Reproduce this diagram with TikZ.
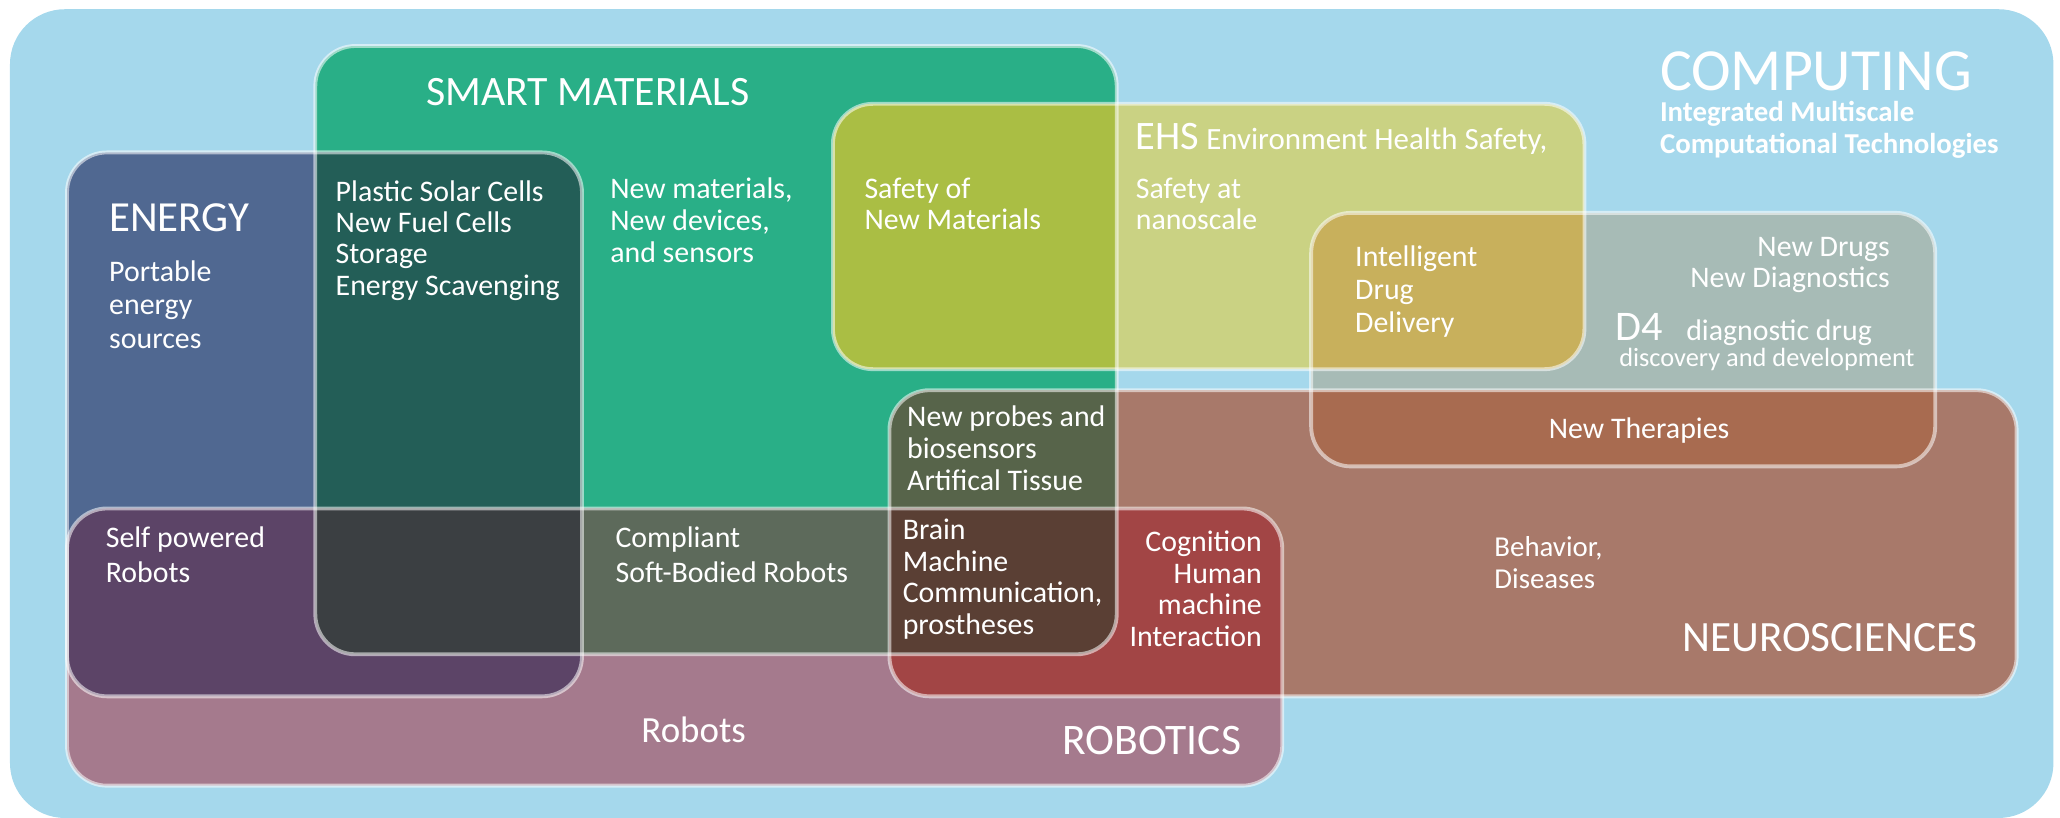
\documentclass[tikz,border=0pt]{standalone}
\usepackage{fontspec}
\setmainfont{Carlito}
\definecolor{hgblau}{HTML}{A5D8EC}
\definecolor{gruen}{HTML}{29AF87}
\definecolor{blau}{HTML}{506891}
\definecolor{mauve}{HTML}{A57A8D}
\definecolor{gelb}{HTML}{CAD283}
\definecolor{grau}{HTML}{A7BBB6}
\definecolor{braun}{HTML}{A8796A}
\definecolor{es}{HTML}{235E57}
\definecolor{er}{HTML}{5C4467}
\definecolor{sr}{HTML}{5D6A5B}
\definecolor{esr}{HTML}{3B3F42}
\definecolor{sh}{HTML}{AABE44}
\definecolor{hd}{HTML}{C8B05C}
\definecolor{dn}{HTML}{A86B50}
\definecolor{ns}{HTML}{57644A}
\definecolor{nr}{HTML}{A24545}
\definecolor{nsr}{HTML}{5A3F34}
\tikzset{
    kasten/.style={rounded corners=4mm},
    rand/.style={draw=white, draw opacity=0.55, line width=1.1pt, rounded corners=4mm},
    titel/.style={text=white, inner sep=0pt, anchor=base west},
    txt/.style={text=white, inner sep=0pt, anchor=base west, align=left},
}
\newcommand{\fs}[2]{\fontsize{#1}{#2}\selectfont}
\begin{document}
\begin{tikzpicture}[x=0.13138mm, y=-0.13138mm]
        % Hintergrund
        \useasboundingbox (0,0) rectangle (1568,622.6);
        \fill[hgblau, rounded corners=5.5mm] (7.6,7) rectangle (1563,622.6);
        % Ecken der Kaesten
        \coordinate (S1) at (240,35);  \coordinate (S2) at (850,498);
        \coordinate (E1) at (51,116);  \coordinate (E2) at (443,530);
        \coordinate (R1) at (51,387);  \coordinate (R2) at (976,598);
        \coordinate (H1) at (634,79);  \coordinate (H2) at (1206,281);
        \coordinate (D1) at (998,162); \coordinate (D2) at (1473,355);
        \coordinate (N1) at (677,297); \coordinate (N2) at (1535,530);
        % Kaesten
        \foreach \k/\f in {S/gruen,E/blau,R/mauve,H/gelb,D/grau,N/braun}{
            \fill[\f, kasten] (\k1) rectangle (\k2);
        }
        % Schnittmengen
        \foreach \a/\b/\f in {E/S/es,E/R/er,S/R/sr,S/H/sh,H/D/hd,D/N/dn,N/S/ns,N/R/nr}{
            \begin{scope}
                \clip[kasten] (\a1) rectangle (\a2);
                \fill[\f, kasten] (\b1) rectangle (\b2);
            \end{scope}
        }
        \foreach \a/\f in {E/esr,N/nsr}{
            \begin{scope}
                \clip[kasten] (\a1) rectangle (\a2);
                \clip[kasten] (S1) rectangle (S2);
                \fill[\f, kasten] (R1) rectangle (R2);
            \end{scope}
        }
        % Raender
        \foreach \k in {S,E,R,H,D,N}{
            \draw[rand] (\k1) rectangle (\k2);
        }
        % Titel
        \node[titel, font=\fs{11.9}{12}] (smart) at (324,80) {SMART MATERIALS};
        \node[titel, font=\fs{17}{18}] (comp) at (1263,68.5) {COMPUTING};
        \node[titel, font=\fs{12.2}{13}] (energy) at (82.6,176.5) {ENERGY};
        \node[titel, font=\fs{12.3}{13}] (neuro) at (1280,496) {NEUROSCIENCES};
        \node[titel, font=\fs{12.4}{13}] (robotics) at (808,574) {ROBOTICS};
        \node[titel, anchor=base, font=\fs{10.5}{12}] (robots) at (528,565) {Robots};
        % Texte (Lage = Grundlinie der letzten Zeile)
        \node[txt, font=\bfseries\fs{8.2}{9.1}] (compsub) at (1263,117)
            {Integrated Multiscale\\Computational Technologies};
        \node[txt, font=\fs{8.5}{9.5}] (portable) at (82.6,265) {Portable\\energy\\sources};
        \node[txt, font=\fs{8.5}{8.85}] (solar) at (255,224.6)
            {Plastic Solar Cells\\New Fuel Cells\\Storage\\Energy Scavenging};
        \node[txt, font=\fs{8.5}{9.15}] (newmat) at (464,200) {New materials,\\New devices,\\and sensors};
        \node[txt, font=\fs{8.5}{9}] (safety) at (657.5,175) {Safety of\\New Materials};
        \node[txt, font=\fs{8.8}{9}] (ehs) at (864,114) {{\fs{11.5}{12}EHS} Environment Health Safety,};
        \node[txt, font=\fs{8.5}{9}] (nano) at (864,175) {Safety at\\nanoscale};
        \node[txt, font=\fs{8.5}{9.35}] (drug) at (1031,253) {Intelligent\\Drug\\Delivery};
        \node[txt, anchor=base east, align=right, font=\fs{8.5}{8.9}] (newdrugs) at (1439,218.8)
            {New Drugs\\New Diagnostics};
        \node[titel, font=\fs{12}{13}] (d4) at (1229,259) {D4};
        \node[txt, font=\fs{8.5}{9}] (diag) at (1283,259) {diagnostic drug};
        \node[txt, font=\fs{7.5}{8}] (disc) at (1232,278.6) {discovery and development};
        \node[txt, anchor=base, font=\fs{8.5}{9}] (therapies) at (1247.6,334) {New Therapies};
        \node[txt, font=\fs{8.5}{9}] (probes) at (690,373) {New probes and\\biosensors\\Artifical Tissue};
        \node[txt, font=\fs{8.5}{9}] (brain) at (686.6,483) {Brain\\Machine\\Communication,\\prostheses};
        \node[txt, anchor=base east, align=right, font=\fs{8.5}{8.95}] (cognition) at (961,491.7)
            {Cognition\\Human\\machine\\Interaction};
        \node[txt, font=\fs{8.2}{9}] (behavior) at (1137,448) {Behavior,\\Diseases};
        \node[txt, font=\fs{8.5}{9.9}] (selfpow) at (80,443) {Self powered\\Robots};
        \node[txt, font=\fs{8.5}{9.9}] (compliant) at (468,443) {Compliant\\Soft-Bodied Robots};
\end{tikzpicture}
\end{document}
